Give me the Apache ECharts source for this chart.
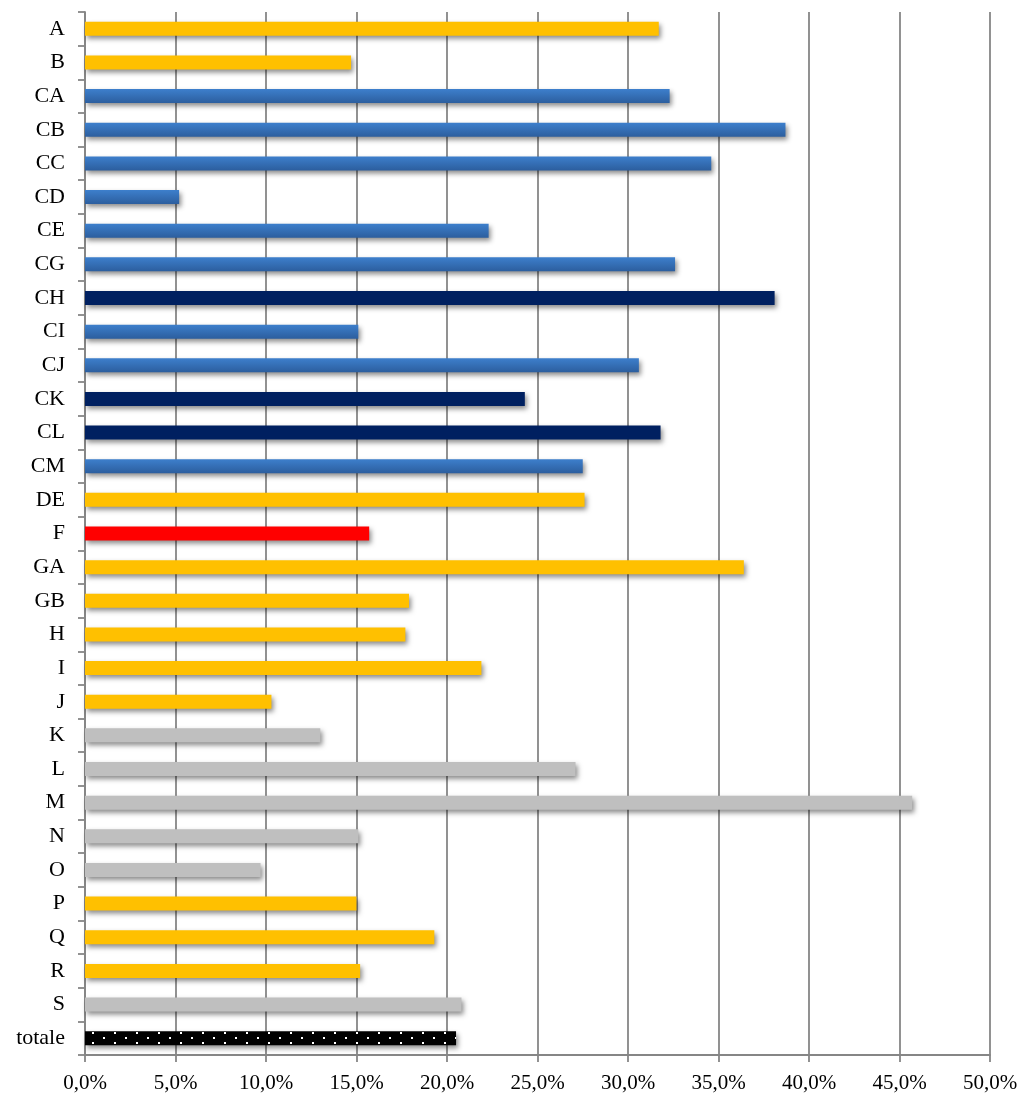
<!DOCTYPE html>
<html>
<head>
<meta charset="utf-8">
<script src="https://cdn.jsdelivr.net/npm/echarts@6/dist/echarts.min.js"></script>
<style>html,body{margin:0;padding:0;background:#fff}#c{width:1025px;height:1102px}</style>
</head>
<body>
<div id="c"></div>
<script>
var categories = ['A','B','CA','CB','CC','CD','CE','CG','CH','CI','CJ','CK','CL','CM','DE','F','GA','GB','H','I','J','K','L','M','N','O','P','Q','R','S','totale'];
var values = [31.7,14.7,32.3,38.7,34.6,5.2,22.3,32.6,38.1,15.1,30.6,24.3,31.8,27.5,27.6,15.7,36.4,17.9,17.7,21.9,10.3,13.0,27.1,45.7,15.1,9.7,15.0,19.3,15.2,20.8,20.5];
var groups = ['g1','g1','g2','g2','g2','g2','g2','g2','g3','g2','g2','g3','g3','g2','g1','g4','g1','g1','g1','g1','g1','g5','g5','g5','g5','g5','g1','g1','g1','g5','g6'];
var xTicks = [0,5,10,15,20,25,30,35,40,45,50];

function makeDots(){
  var c = document.createElement('canvas');
  c.width = 22; c.height = 10;
  var g = c.getContext('2d');
  g.fillStyle = '#000'; g.fillRect(0,0,22,10);
  g.fillStyle = '#fff';
  g.fillRect(4,2,2,2);
  g.fillRect(15,7,2,2);
  return c;
}
var styles = {
  g1: '#FFC000',
  g2: {type:'linear',x:0,y:0,x2:0,y2:1,colorStops:[{offset:0,color:'#3D7FCC'},{offset:1,color:'#2C5E9E'}]},
  g3: '#002060',
  g4: '#FF0000',
  g5: '#BFBFBF',
  g6: {image: makeDots(), repeat: 'repeat'}
};

var data = values.map(function(v,i){
  return {value: v, itemStyle: {color: styles[groups[i]]}};
});

var chart = echarts.init(document.getElementById('c'));
chart.setOption({
  animation: false,
  backgroundColor: '#fff',
  grid: {left: 85, right: 35, top: 12, bottom: 47, containLabel: false},
  xAxis: {
    type: 'value', min: xTicks[0], max: xTicks[xTicks.length-1], interval: 5,
    axisLine: {show: true, lineStyle: {color: '#868686', width: 1.8}},
    axisTick: {show: true, length: 7, lineStyle: {color: '#868686', width: 1.8}},
    splitLine: {show: true, lineStyle: {color: '#868686', width: 1.8}},
    axisLabel: {
      margin: 18, color: '#000', fontFamily: 'Liberation Serif', fontSize: 21,
      formatter: function(v){ return v.toFixed(1).replace('.', ',') + '%'; }
    }
  },
  yAxis: {
    type: 'category', data: categories, inverse: true,
    axisLine: {show: true, lineStyle: {color: '#868686', width: 1.8}},
    axisTick: {show: true, length: 7, lineStyle: {color: '#868686', width: 1.8}},
    axisLabel: {margin: 20, color: '#000', fontFamily: 'Liberation Serif', fontSize: 22, padding: [8,0,0,0]}
  },
  series: [{
    type: 'bar', data: data, barWidth: 14,
    itemStyle: {shadowColor: 'rgba(0,0,0,0.45)', shadowBlur: 5, shadowOffsetX: 2, shadowOffsetY: 3}
  }]
});
</script>
</body>
</html>
